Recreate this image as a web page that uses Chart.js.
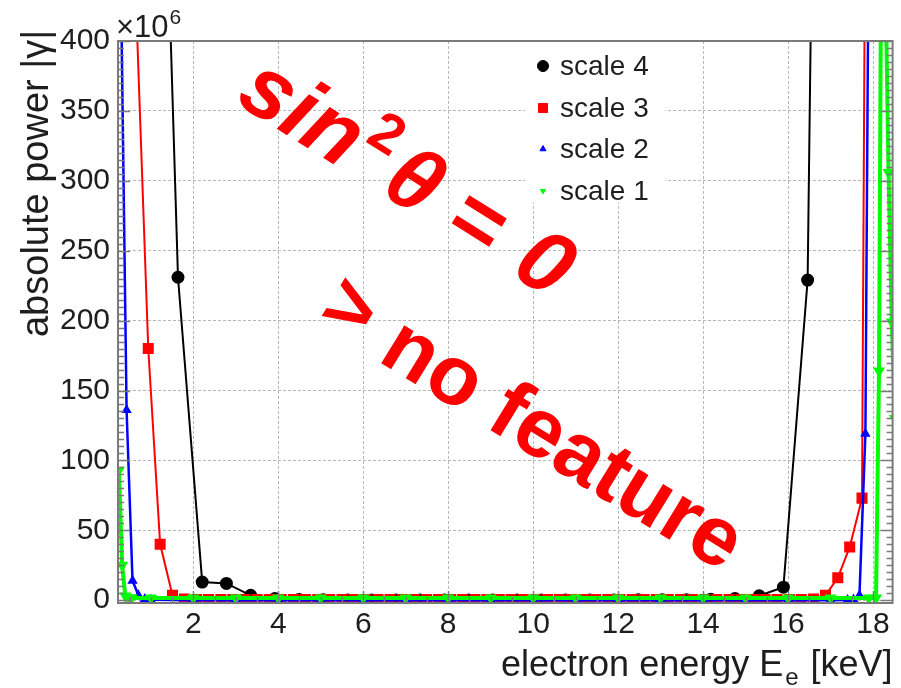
<!DOCTYPE html>
<html>
<head>
<meta charset="utf-8">
<title>absolute power vs electron energy</title>
<script src="https://cdn.jsdelivr.net/npm/chart.js@4.4.1/dist/chart.umd.min.js"></script>
<style>
  html, body { margin: 0; padding: 0; background: #fff; }
  #wrap { width: 901px; height: 688px; }
</style>
</head>
<body>
<div id="wrap"><canvas id="powerChart" width="901" height="688"></canvas></div>
<script>
'use strict';

// electron energy [keV] and absolute power [10^6] for each wavelet scale
var scale4Energy = [1.07, 1.64, 2.21, 2.78, 3.35, 3.92, 4.49, 5.06, 5.63, 6.20,
    6.77, 7.34, 7.91, 8.48, 9.05, 9.62, 10.19, 10.76, 11.33, 11.90,
    12.47, 13.04, 13.61, 14.18, 14.75, 15.32, 15.89, 16.46, 17.03];
var scale4Power = [800, 231, 13, 12, 3.5, 1.2, 0.5, 0.3, 0.2, 0.2,
    0.2, 0.2, 0.2, 0.2, 0.2, 0.2, 0.2, 0.2, 0.2, 0.2,
    0.3, 0.3, 0.4, 0.6, 1.2, 3.2, 9.3, 229, 1620];

var scale3Energy = [0.37, 0.655, 0.94, 1.22, 1.51, 1.79, 2.08, 2.36, 2.65, 2.93,
    3.22, 3.50, 3.79, 4.07, 4.36, 4.64, 4.93, 5.21, 5.50, 5.78,
    6.06, 6.35, 6.63, 6.92, 7.20, 7.49, 7.77, 8.06, 8.34, 8.63,
    8.91, 9.20, 9.48, 9.77, 10.05, 10.34, 10.62, 10.90, 11.19, 11.47,
    11.76, 12.04, 12.33, 12.61, 12.90, 13.18, 13.47, 13.75, 14.04, 14.32,
    14.61, 14.89, 15.18, 15.46, 15.74, 16.03, 16.31, 16.60, 16.88, 17.17,
    17.45, 17.74, 18.02];
var scale3Power = [1500, 425, 180, 40, 3.5, 0.9, 0.4, 0.4, 0.4, 0.4,
    0.4, 0.4, 0.4, 0.4, 0.4, 0.4, 0.4, 0.4, 0.4, 0.4,
    0.4, 0.4, 0.4, 0.4, 0.4, 0.4, 0.4, 0.4, 0.4, 0.4,
    0.4, 0.4, 0.4, 0.4, 0.4, 0.4, 0.4, 0.4, 0.4, 0.4,
    0.4, 0.4, 0.4, 0.4, 0.4, 0.4, 0.4, 0.4, 0.4, 0.4,
    0.4, 0.4, 0.4, 0.4, 0.4, 0.4, 0.5, 0.8, 3.5, 16,
    38, 73, 1650];

var scale2Energy = [0.29, 0.43, 0.57, 0.71, 0.86, 1, 2, 3, 4, 5,
    6, 7, 8, 9, 10, 11, 12, 13, 14, 15,
    16, 17, 17.40, 17.54, 17.68, 17.82, 17.96];
var scale2Power = [457, 136, 14, 3.5, 0.8, 0.3, 0, 0, 0, 0,
    0, 0, 0, 0, 0, 0, 0, 0, 0, 0,
    0, 0, 0.2, 0.5, 3.5, 119, 775];

var scale1Energy = [0.25, 0.325, 0.40, 0.475, 0.55, 1, 2, 3, 4, 5,
    6, 7, 8, 9, 10, 11, 12, 13, 14, 15,
    16, 17, 17.90, 18.07, 18.14, 18.215, 18.29, 18.365, 18.44, 18.515];
var scale1Power = [93, 25, 3, 1.8, 1.5, 1.5, 1.5, 1.5, 1.5, 1.5,
    1.5, 1.5, 1.5, 1.5, 1.5, 1.5, 1.5, 1.5, 1.5, 1.5,
    1.5, 1.5, 1.5, 1.5, 164, 606, 447, 306, 199, 130];

var seriesLabels = ['scale 4', 'scale 3', 'scale 2', 'scale 1'];
var energyTicks = [2, 4, 6, 8, 10, 12, 14, 16, 18];
var powerTicks = [0, 50, 100, 150, 200, 250, 300, 350, 400];

var FONT = "'Liberation Sans', Arial, Helvetica, sans-serif";
var TEXT = '#1e1e1e';
var FRAME = '#7a7a7a';

function points(xs, ys) {
    return xs.map(function (x, i) { return { x: x, y: ys[i] }; });
}

function drawMarker(ctx, style, rotation, radius, x, y) {
    if (Chart.helpers && Chart.helpers.drawPoint) {
        Chart.helpers.drawPoint(ctx, { pointStyle: style, rotation: rotation, radius: radius, borderWidth: 1 }, x, y);
        return;
    }
    ctx.beginPath();
    ctx.arc(x, y, radius, 0, Math.PI * 2);
    ctx.fill();
}

// frame and inner ticks of the box
var frameTicks = {
    id: 'frameTicks',
    afterDatasetsDraw: function (chart) {
        var ctx = chart.ctx, a = chart.chartArea;
        var xs = chart.scales.x, ys = chart.scales.y;
        ctx.save();
        ctx.strokeStyle = FRAME;
        ctx.lineWidth = 1.5;
        ctx.beginPath();
        var v, px, len;
        for (v = 0; v <= 400; v += 5) {
            px = Math.round(ys.getPixelForValue(v)) + 0.5;
            len = (v % 50 === 0) ? 12 : 6;
            ctx.moveTo(a.left, px); ctx.lineTo(a.left + len, px);
            ctx.moveTo(a.right, px); ctx.lineTo(a.right - len, px);
        }
        for (v = 0.5; v <= 18.4; v += 0.5) {
            px = Math.round(xs.getPixelForValue(v)) + 0.5;
            len = (v % 2 === 0) ? 12 : 6;
            ctx.moveTo(px, a.bottom); ctx.lineTo(px, a.bottom - len);
        }
        ctx.stroke();
        ctx.lineWidth = 2;
        ctx.strokeRect(a.left, a.top, a.right - a.left, a.bottom - a.top);
        ctx.restore();
    }
};

// legend in the upper right, on a white patch that hides the grid
var legendBox = {
    id: 'legendBox',
    beforeDatasetsDraw: function (chart) {
        var ctx = chart.ctx;
        ctx.save();
        ctx.fillStyle = '#fff';
        ctx.fillRect(525, 42, 140, 161);
        ctx.restore();
    },
    afterDatasetsDraw: function (chart) {
        var ctx = chart.ctx;
        var rows = [66, 108, 149, 191];
        ctx.save();
        chart.data.datasets.forEach(function (ds, i) {
            ctx.fillStyle = ds.pointBackgroundColor;
            ctx.strokeStyle = ds.pointBackgroundColor;
            drawMarker(ctx, ds.pointStyle, ds.pointRotation || 0, ds.pointRadius, 543, rows[i]);
            ctx.fillStyle = TEXT;
            ctx.font = '28px ' + FONT;
            ctx.textAlign = 'left';
            ctx.textBaseline = 'middle';
            ctx.fillText(ds.label, 560, rows[i] + 1);
        });
        ctx.restore();
    }
};

// red note written across the plot
var note = {
    id: 'note',
    afterDatasetsDraw: function (chart) {
        var ctx = chart.ctx;
        function run(x0, y0, deg, parts) {
            ctx.save();
            ctx.translate(x0, y0);
            ctx.rotate(deg * Math.PI / 180);
            ctx.fillStyle = '#ff0000';
            ctx.textBaseline = 'alphabetic';
            ctx.textAlign = 'left';
            var cx = 0;
            parts.forEach(function (p) {
                ctx.font = p.font;
                ctx.fillText(p.text, cx, p.dy || 0);
                cx += ctx.measureText(p.text).width + (p.gap || 0);
            });
            ctx.restore();
        }
        run(234, 102, 32, [
            { text: 'sin', font: 'italic bold 88px ' + FONT, gap: 4 },
            { text: '2', font: 'bold 56px ' + FONT, dy: -36, gap: 8 },
            { text: '\u03B8', font: 'italic bold 88px ' + FONT, gap: 26 },
            { text: '=', font: 'bold 88px ' + FONT, gap: 28 },
            { text: '0', font: 'italic bold 88px ' + FONT }
        ]);
        run(314, 322, 31.5, [
            { text: '>', font: 'bold 84px ' + FONT, dy: -4, gap: 24 },
            { text: 'no feature', font: 'bold 84px ' + FONT }
        ]);
    }
};

// axis titles and the exponent above the y axis
var titles = {
    id: 'titles',
    afterDraw: function (chart) {
        var ctx = chart.ctx, a = chart.chartArea;
        ctx.save();
        ctx.fillStyle = TEXT;

        ctx.save();
        ctx.translate(38, 30);
        ctx.rotate(-Math.PI / 2);
        ctx.font = '38px ' + FONT;
        ctx.textAlign = 'right';
        ctx.textBaseline = 'middle';
        ctx.fillText('absolute power |\u03B3|', 0, 0);
        ctx.restore();

        var big = '36px ' + FONT, small = '24px ' + FONT;
        ctx.textBaseline = 'alphabetic';
        ctx.textAlign = 'left';
        ctx.font = big;
        var w1 = ctx.measureText('electron energy E').width;
        var w3 = ctx.measureText(' [keV]').width;
        ctx.font = small;
        var w2 = ctx.measureText('e').width + 4;
        var x0 = a.right - (w1 + w2 + w3);
        ctx.font = big;
        ctx.fillText('electron energy E', x0, 676);
        ctx.font = small;
        ctx.fillText('e', x0 + w1 + 2, 685);
        ctx.font = big;
        ctx.fillText(' [keV]', x0 + w1 + w2, 676);

        ctx.font = '31px ' + FONT;
        ctx.fillText('\u00D710', 116, 37);
        var wx = ctx.measureText('\u00D710').width;
        ctx.font = '21px ' + FONT;
        ctx.fillText('6', 116 + wx + 1, 24);
        ctx.restore();
    }
};

var ctxEl = document.getElementById('powerChart');

var powerChart = new Chart(ctxEl, {
    type: 'line',
    data: {
        datasets: [
            {
                label: seriesLabels[0],
                data: points(scale4Energy, scale4Power),
                borderColor: '#000000',
                backgroundColor: '#000000',
                pointBackgroundColor: '#000000',
                pointBorderColor: '#000000',
                pointStyle: 'circle',
                pointRadius: 5.5,
                borderWidth: 2,
                order: 4
            },
            {
                label: seriesLabels[1],
                data: points(scale3Energy, scale3Power),
                borderColor: '#ff0000',
                backgroundColor: '#ff0000',
                pointBackgroundColor: '#ff0000',
                pointBorderColor: '#ff0000',
                pointStyle: 'rect',
                pointRadius: 6.4,
                borderWidth: 2,
                order: 3
            },
            {
                label: seriesLabels[2],
                data: points(scale2Energy, scale2Power),
                borderColor: '#0000ff',
                backgroundColor: '#0000ff',
                pointBackgroundColor: '#0000ff',
                pointBorderColor: '#0000ff',
                pointStyle: 'triangle',
                pointRadius: 3.5,
                borderWidth: 2.5,
                order: 2
            },
            {
                label: seriesLabels[3],
                data: points(scale1Energy, scale1Power),
                borderColor: '#00ff00',
                backgroundColor: '#00ff00',
                pointBackgroundColor: '#00ff00',
                pointBorderColor: '#00ff00',
                pointStyle: 'triangle',
                pointRotation: 180,
                pointRadius: 3,
                borderWidth: 4,
                order: 1
            }
        ]
    },
    options: {
        responsive: false,
        animation: false,
        devicePixelRatio: 1,
        layout: { padding: { top: 41, right: 8, left: 0, bottom: 0 } },
        elements: { line: { tension: 0 } },
        plugins: {
            legend: { display: false },
            tooltip: { enabled: false }
        },
        scales: {
            x: {
                type: 'linear',
                min: 0.228,
                max: 18.46,
                afterBuildTicks: function (scale) {
                    scale.ticks = energyTicks.map(function (v) { return { value: v }; });
                },
                afterFit: function (scale) { scale.height = 85; },
                ticks: {
                    color: TEXT,
                    font: { family: FONT, size: 30 },
                    padding: 4,
                    maxRotation: 0
                },
                grid: { color: '#b8b8b8', lineWidth: 1, drawTicks: false },
                border: { display: false, dash: [3, 2] }
            },
            y: {
                type: 'linear',
                min: -2,
                max: 400,
                afterBuildTicks: function (scale) {
                    scale.ticks = powerTicks.map(function (v) { return { value: v }; });
                },
                afterFit: function (scale) { scale.width = 118; },
                ticks: {
                    color: TEXT,
                    font: { family: FONT, size: 30 },
                    padding: 8
                },
                grid: { color: '#b8b8b8', lineWidth: 1, drawTicks: false },
                border: { display: false, dash: [3, 2] }
            }
        }
    },
    plugins: [legendBox, frameTicks, note, titles]
});
</script>
</body>
</html>
